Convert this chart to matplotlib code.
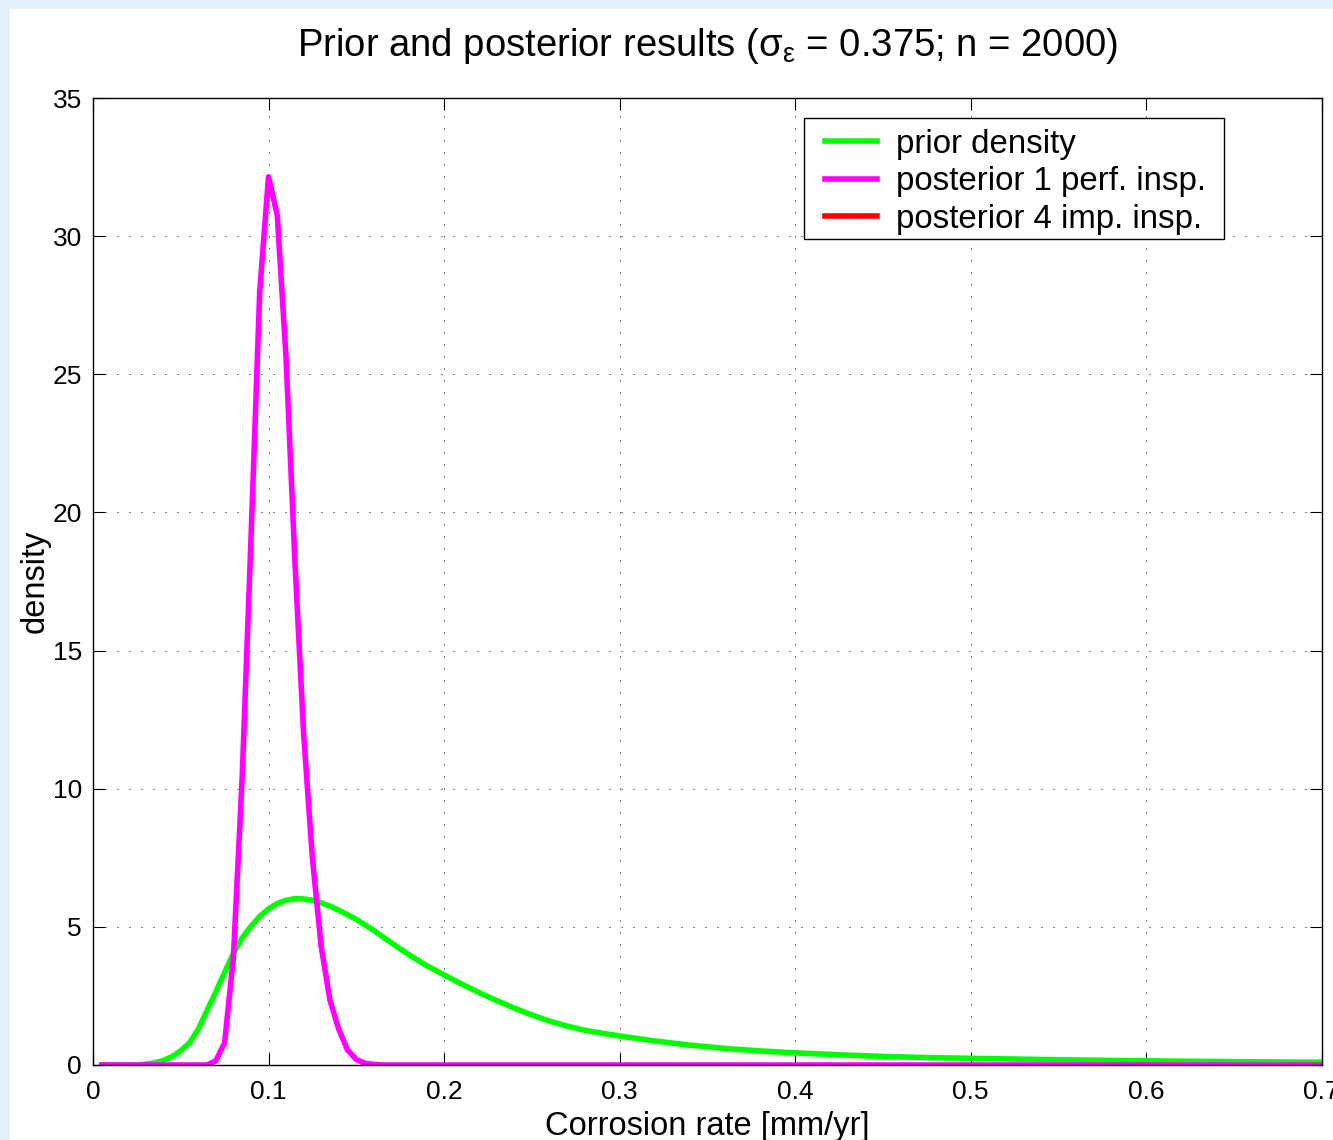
import matplotlib
matplotlib.use("Agg")
import matplotlib.pyplot as plt
from matplotlib.patches import Rectangle

plt.rcParams['font.family'] = ['Liberation Sans', 'DejaVu Sans']
plt.rcParams['mathtext.fontset'] = 'custom'
plt.rcParams['mathtext.rm'] = 'Liberation Sans'
plt.rcParams['mathtext.it'] = 'Liberation Sans'

# prior density
prior_x = [0.005, 0.01, 0.02, 0.025, 0.03, 0.035, 0.04, 0.045, 0.05, 0.055,
           0.06, 0.065, 0.07, 0.075, 0.08, 0.085, 0.09, 0.095, 0.1, 0.105,
           0.11, 0.115, 0.12, 0.125, 0.13, 0.135, 0.14, 0.145, 0.15, 0.16,
           0.17, 0.18, 0.19, 0.2, 0.21, 0.22, 0.23, 0.24, 0.25, 0.26,
           0.27, 0.28, 0.29, 0.3, 0.32, 0.34, 0.36, 0.38, 0.4, 0.425,
           0.45, 0.475, 0.5, 0.55, 0.6, 0.65, 0.7]
prior_y = [0.0, 0.0, 0.0, 0.005, 0.03, 0.08, 0.16, 0.3, 0.52, 0.8,
           1.3, 1.98, 2.65, 3.35, 4.04, 4.6, 5.02, 5.38, 5.65, 5.85,
           5.96, 6.02, 6.01, 5.96, 5.87, 5.75, 5.6, 5.44, 5.27, 4.87,
           4.42, 3.99, 3.6, 3.26, 2.93, 2.62, 2.33, 2.06, 1.81, 1.59,
           1.41, 1.26, 1.15, 1.05, 0.87, 0.72, 0.6, 0.51, 0.44, 0.37,
           0.31, 0.27, 0.24, 0.19, 0.15, 0.12, 0.1]

# posterior after 1 perfect inspection
post1_x = [0.005, 0.065, 0.07, 0.075, 0.08, 0.085, 0.09, 0.095, 0.1, 0.105,
           0.11, 0.115, 0.12, 0.125, 0.13, 0.135, 0.14, 0.145, 0.15, 0.155,
           0.16, 0.165, 0.7]
post1_y = [0.0, 0.0, 0.15, 0.8, 3.9, 10.4, 19.0, 28.0, 32.15, 30.76,
           25.6, 18.3, 12.0, 7.5, 4.3, 2.35, 1.3, 0.55, 0.2, 0.06,
           0.02, 0.0, 0.0]

# posterior after 4 imperfect inspections (not visible in the picture)
post4_x = []
post4_y = []

xticks = [0, 0.1, 0.2, 0.3, 0.4, 0.5, 0.6, 0.7]
xticklabels = ['0', '0.1', '0.2', '0.3', '0.4', '0.5', '0.6', '0.7']
yticks = [0, 5, 10, 15, 20, 25, 30, 35]

fig = plt.figure(figsize=(13.33, 11.4), dpi=100, facecolor='#E5F0FB')
fig.patches.append(Rectangle((10 / 1333, 0), 1, 1 - 9 / 1140, transform=fig.transFigure,
                             facecolor='white', edgecolor='none', zorder=-1))
ax = fig.add_axes([93 / 1333, 1 - 1065 / 1140, 1228.5 / 1333, 967 / 1140])

ax.plot(prior_x, prior_y, color='#00FF00', lw=4, label='prior density')
ax.plot(post1_x, post1_y, color='#FF00FF', lw=4, label='posterior 1 perf. insp.')
ax.plot(post4_x, post4_y, color='#FF0000', lw=4, label='posterior 4 imp. insp.')

ax.set_xlim(0, 0.7)
ax.set_ylim(0, 35)
ax.set_xticks(xticks)
ax.set_xticklabels(xticklabels)
ax.set_yticks(yticks)
ax.tick_params(direction='in', length=8.6, width=0.8, labelsize=19,
               top=True, right=True)
ax.tick_params(axis='x', pad=11)
ax.tick_params(axis='y', pad=8)
ax.grid(True, color='black', lw=0.72, linestyle=(0, (1, 11)))
for s in ax.spines.values():
    s.set_linewidth(1.0)

ax.set_xlabel('Corrosion rate [mm/yr]', fontsize=23.5, labelpad=5)
ax.set_ylabel('density', fontsize=23.5, labelpad=1)
ax.set_title(r'Prior and posterior results ($\mathregular{\sigma_{\varepsilon}}$ = 0.375; n = 2000)',
             fontsize=27.5, pad=30)

# legend box drawn as its own frame, MATLAB style
box_l, box_r = (804 - 93) / 1228.5, (1224 - 93) / 1228.5
box_t, box_b = 1 - (118 - 98) / 967, 1 - (239 - 98) / 967
ax.add_patch(Rectangle((box_l, box_b), box_r - box_l, box_t - box_b, transform=ax.transAxes,
                       facecolor='white', edgecolor='black', lw=1.0, zorder=4.5))
leg = ax.legend(loc='upper left', bbox_to_anchor=((825 - 93) / 1228.5, 1 - (129 - 98) / 967),
                borderaxespad=0, borderpad=0, frameon=False,
                fontsize=23.8, handlelength=1.58, handletextpad=0.56, labelspacing=0.19)

fig.savefig('out.png', dpi=100, facecolor=fig.get_facecolor())
